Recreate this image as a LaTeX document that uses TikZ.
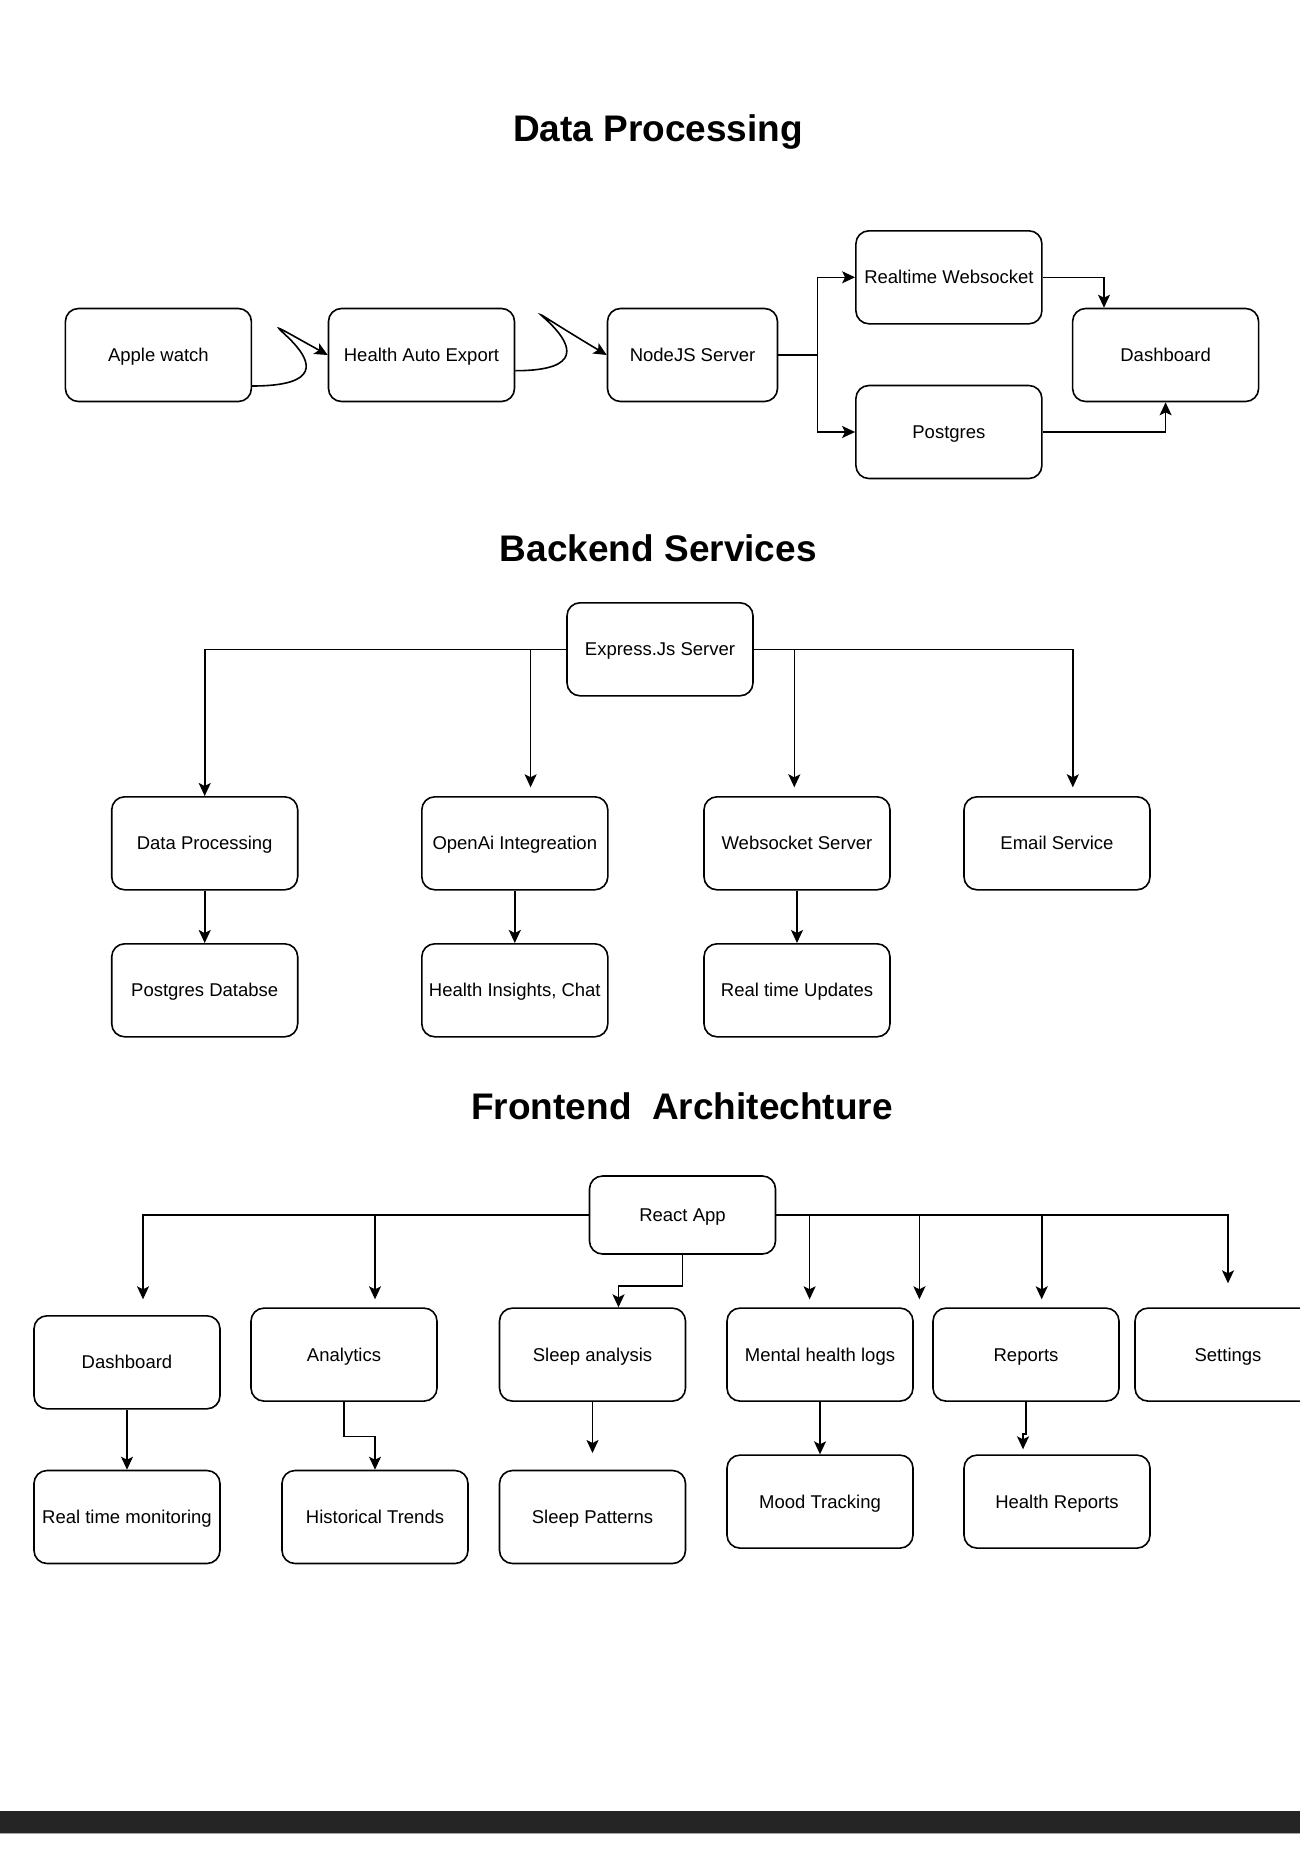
\documentclass[tikz,border=0pt]{standalone}
\usepackage{fontspec}
\setmainfont{Liberation Sans}
\usetikzlibrary{arrows.meta}
\definecolor{barcol}{HTML}{252525}

\begin{document}
\begin{tikzpicture}[x=1pt,y=-1pt,
  box/.style={draw,line width=1.6pt,rounded corners=13pt,minimum width=186pt,minimum height=93pt,
    inner sep=0pt,text height=13.3pt,text depth=0pt,font=\fontsize{18.5pt}{22pt}\selectfont},
  title/.style={anchor=base,font=\fontsize{37pt}{44pt}\selectfont\bfseries},
  arr/.style={line width=1.6pt,-{Stealth[length=13pt,width=12pt,inset=3pt]}}]
\useasboundingbox (0,0) rectangle (1300,1860);
\fill[white] (0,0) rectangle (1300,1860);
\clip (0,0) rectangle (1300,1860);

\node[title] (t1) at (658,141.5) {Data Processing};
\node[box] (aw) at (158.4,355) {Apple watch};
\node[box] (hae) at (421.5,355) {Health Auto Export};
\node[box,minimum width=170pt] (njs) at (692.5,355) {NodeJS Server};
\node[box] (rws) at (948.9,277.3) {Realtime Websocket};
\node[box] (pg) at (948.9,432) {Postgres};
\node[box] (dash) at (1165.6,355) {Dashboard};

\draw[arr] ([yshift=-31pt]aw.east) .. controls +(140,0) and +(-126,-70) .. (hae.west);
\draw[arr] ([yshift=-15.7pt]hae.east) .. controls +(140,0) and +(-158,-95) .. (njs.west);
\draw[arr] (njs.east) -- ++(39,0) |- (rws.west);
\draw[arr] (njs.east) -- ++(39,0) |- (pg.west);
\draw[arr] (rws.east) -| ([xshift=-61.6pt]dash.north);
\draw[arr] (pg.east) -| (dash.south);

\node[title] (t2) at (658.3,561.5) {Backend Services};
\node[box] (exp) at (660,649.3) {Express.Js Server};
\node[box] (dp) at (204.7,843.3) {Data Processing};
\node[box] (oai) at (514.8,843.3) {OpenAi Integreation};
\node[box] (wss) at (797,843.3) {Websocket Server};
\node[box] (mail) at (1057,843.3) {Email Service};
\node[box] (pgdb) at (204.7,990.3) {Postgres Databse};
\node[box] (hic) at (514.8,990.3) {Health Insights, Chat};
\node[box] (rtu) at (797,990.3) {Real time Updates};

\draw[arr] (exp.west) -| (dp.north);
\draw[arr] (exp.west) -| ([xshift=15.8pt,yshift=8.7pt]oai.north);
\draw[arr] (exp.east) -| ([xshift=-2.7pt,yshift=8.7pt]wss.north);
\draw[arr] (exp.east) -| ([xshift=15.8pt,yshift=8.7pt]mail.north);
\draw[arr] (dp.south) -- (pgdb.north);
\draw[arr] (oai.south) -- (hic.north);
\draw[arr] (wss.south) -- (rtu.north);

\node[title] (t3) at (682,1119.5) {Frontend~~Architechture};
\node[box,minimum height=78pt] (app) at (682.5,1215) {React App};
\node[box] (fdash) at (127,1362.3) {Dashboard};
\node[box] (ana) at (344,1354.6) {Analytics};
\node[box] (sla) at (592.5,1354.6) {Sleep analysis};
\node[box] (mhl) at (820,1354.6) {Mental health logs};
\node[box] (rep) at (1026,1354.6) {Reports};
\node[box] (set) at (1228,1354.6) {Settings};
\node[box] (rtm) at (127,1517) {Real time monitoring};
\node[box] (hist) at (375,1517) {Historical Trends};
\node[box] (slp) at (592.5,1517) {Sleep Patterns};
\node[box] (mood) at (820,1501.6) {Mood Tracking};
\node[box] (hrep) at (1057,1501.6) {Health Reports};

\draw[arr] (app.west) -| ([xshift=16pt,yshift=15.7pt]fdash.north);
\draw[arr] (app.west) -| ([xshift=31pt,yshift=8pt]ana.north);
\draw[arr] (app.south) -- ++(0,31) -| ([xshift=26pt]sla.north);
\draw[arr] (app.east) -| ([xshift=-10.4pt,yshift=8pt]mhl.north);
\draw[arr] (app.east) -| ([xshift=5.6pt,yshift=8pt]mhl.north east);
\draw[arr] (app.east) -| ([xshift=15.7pt,yshift=8pt]rep.north);
\draw[arr] (app.east) -| ([yshift=24pt]set.north);
\draw[arr] (fdash.south) -- (rtm.north);
\draw[arr] (ana.south) -- ++(0,34.7) -| (hist.north);
\draw[arr] (sla.south) -- ([yshift=16.7pt]slp.north);
\draw[arr] (mhl.south) -- (mood.north);
\draw[arr] (rep.south) -- ++(0,32) -| ([xshift=-34pt,yshift=5pt]hrep.north);

\fill[barcol] (0,1810.7) rectangle (1300,1832.7);
\fill[black!35] (0,1832.7) rectangle (1300,1834.3);
\end{tikzpicture}
\end{document}
